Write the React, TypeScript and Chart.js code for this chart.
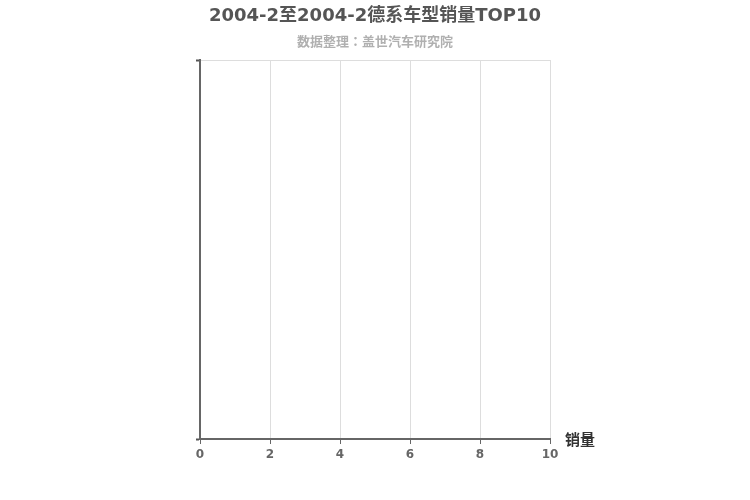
import { useEffect, useRef } from 'react';
import { Chart, registerables } from 'chart.js';

Chart.register(...registerables);

const TITLE = '2004-2至2004-2德系车型销量TOP10';
const SUBTITLE = '数据整理：盖世汽车研究院';
const AXIS_NAME = '销量';

// no models were reported for this month, so the chart is empty
const models: string[] = [];
const sales: number[] = [];
const xTicks = [0, 2, 4, 6, 8, 10];

const FONT = '"DejaVu Sans", "Noto Sans CJK SC", sans-serif';
// the JP face centres the full-width colon like the reference does
const SUB_FONT = '"Noto Sans CJK JP", "Noto Sans CJK SC", sans-serif';

const textPlugin = {
  id: 'titles',
  afterDraw(chart: Chart) {
    const { ctx, chartArea } = chart;
    const cx = (chartArea.left + chartArea.right) / 2;
    ctx.save();
    ctx.textAlign = 'center';
    ctx.textBaseline = 'middle';
    ctx.fillStyle = '#555';
    ctx.font = `bold 18px ${FONT}`;
    ctx.fillText(TITLE, cx, 16);
    ctx.fillStyle = '#b0b0b0';
    ctx.font = `bold 13px ${SUB_FONT}`;
    ctx.fillText(SUBTITLE, cx, 41);
    ctx.textAlign = 'left';
    ctx.fillStyle = '#333';
    ctx.font = `bold 15px ${FONT}`;
    ctx.fillText(AXIS_NAME, chartArea.right + 15, chartArea.bottom + 2);
    ctx.restore();
  },
};

export default function App() {
  const canvasRef = useRef<HTMLCanvasElement>(null);
  const chartRef = useRef<Chart | null>(null);

  useEffect(() => {
    document.body.style.margin = '0';
    if (canvasRef.current) {
      const ctx = canvasRef.current.getContext('2d');
      if (ctx) {
        if (chartRef.current) {
          chartRef.current.destroy();
        }

        chartRef.current = new Chart(ctx, {
          type: 'bar',
          data: {
            labels: models.length ? models : [''],
            datasets: [
              {
                label: AXIS_NAME,
                data: sales,
                backgroundColor: '#c23531',
              },
            ],
          },
          options: {
            indexAxis: 'y',
            responsive: false,
            animation: false,
            layout: {
              padding: { top: 60, right: 200, left: 0, bottom: 0 },
            },
            scales: {
              x: {
                type: 'linear',
                min: xTicks[0],
                max: xTicks[xTicks.length - 1],
                afterBuildTicks: (scale) => {
                  scale.ticks = xTicks.map((v) => ({ value: v }));
                },
                afterFit: (scale) => {
                  scale.height = 61;
                },
                grid: {
                  color: '#ddd',
                  tickColor: '#666',
                  tickLength: 5,
                },
                border: {
                  color: '#666',
                  width: 2,
                },
                ticks: {
                  color: '#666',
                  padding: 4,
                  font: { family: FONT, size: 12, weight: 'bold' },
                },
              },
              y: {
                type: 'category',
                offset: true,
                afterFit: (scale) => {
                  scale.width = 200;
                },
                grid: {
                  offset: true,
                  color: '#ddd',
                  tickColor: '#555',
                  tickLength: 4,
                  tickWidth: 2,
                },
                border: {
                  color: '#666',
                  width: 2,
                },
                ticks: {
                  display: true,
                  color: '#666',
                  font: { family: FONT, size: 12 },
                },
              },
            },
            plugins: {
              legend: { display: false },
              title: { display: false },
              tooltip: { enabled: false },
            },
          },
          plugins: [textPlugin],
        });
      }
    }

    return () => {
      if (chartRef.current) {
        chartRef.current.destroy();
        chartRef.current = null;
      }
    };
  }, []);

  return (
    <div style={{ width: 750, height: 500, background: '#fff' }}>
      <canvas ref={canvasRef} width={750} height={500} />
    </div>
  );
}
